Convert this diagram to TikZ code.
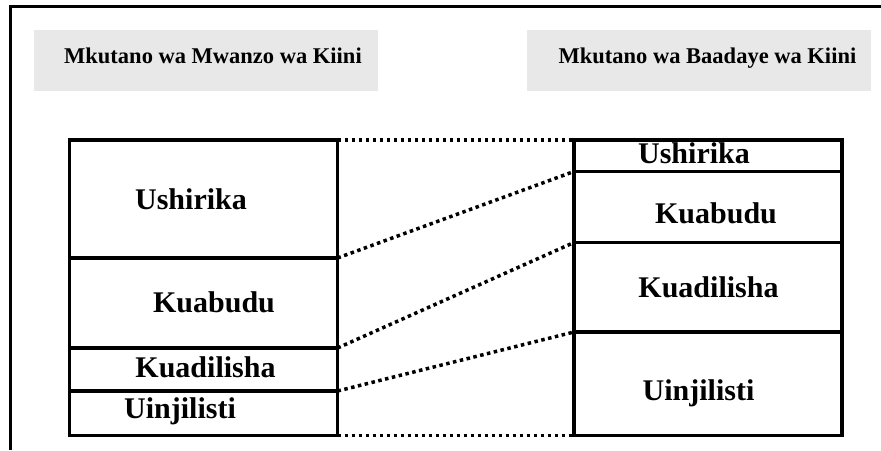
\documentclass[tikz,border=0pt]{standalone}
\usepackage{fontspec}
\setmainfont{Liberation Serif}
\definecolor{titlegray}{RGB}{232,232,232}
\begin{document}
\begin{tikzpicture}[x=1pt,y=-1pt,
  seg/.style={draw, line width=3.5pt, rectangle, inner sep=0pt, outer sep=0pt, minimum width=268pt},
  titlebox/.style={fill=titlegray, inner sep=0pt, outer sep=0pt, minimum width=344pt, minimum height=61pt},
  titletext/.style={anchor=base, inner sep=0pt, font=\fontsize{22.5}{27}\selectfont\bfseries},
  segtext/.style={anchor=base, inner sep=0pt, font=\fontsize{30}{36}\selectfont\bfseries},
  link/.style={line width=3.5pt, dash pattern=on 3.5pt off 3.5pt},
  frame/.style={line width=2.8pt}]
\useasboundingbox (0,0) rectangle (881,450);
% frame
\draw[frame] (10.5,450) -- (10.5,6.5) -- (881,6.5);
% titles
\node[titlebox] (tbl) at (206,60.5) {};
\node[titlebox] (tbr) at (699,60.5) {};
\node[titletext] (ttl) at (213,63) {Mkutano wa Mwanzo wa Kiini};
\node[titletext] (ttr) at (707.5,63) {Mkutano wa Baadaye wa Kiini};
% left stack
\node[seg, minimum height=118pt] (l1) at (203.5,199) {};
\node[seg, minimum height=90pt] (l2) at (203.5,303) {};
\node[seg, minimum height=43pt] (l3) at (203.5,369.5) {};
\node[seg, minimum height=44.5pt] (l4) at (203.5,413.25) {};
% right stack
\node[seg, minimum height=31.5pt] (r1) at (708,155.75) {};
\node[seg, minimum height=71pt] (r2) at (708,207) {};
\node[seg, minimum height=89.5pt] (r3) at (708,287.25) {};
\node[seg, minimum height=103.5pt] (r4) at (708,383.75) {};
% texts
\node[segtext] (lt1) at (191,209) {Ushirika};
\node[segtext] (lt2) at (214,312) {Kuabudu};
\node[segtext] (lt3) at (205.5,377) {Kuadilisha};
\node[segtext] (lt4) at (180,418) {Uinjilisti};
\node[segtext] (rt1) at (694,163) {Ushirika};
\node[segtext] (rt2) at (716,223) {Kuabudu};
\node[segtext] (rt3) at (708.5,297) {Kuadilisha};
\node[segtext] (rt4) at (698.5,400) {Uinjilisti};
% links
\draw[link] (l1.north east) -- (r1.north west);
\draw[link] (l1.south east) -- (r1.south west);
\draw[link] (l2.south east) -- (r2.south west);
\draw[link] (l3.south east) -- (r3.south west);
\draw[link] (l4.south east) -- (r4.south west);
\end{tikzpicture}
\end{document}
